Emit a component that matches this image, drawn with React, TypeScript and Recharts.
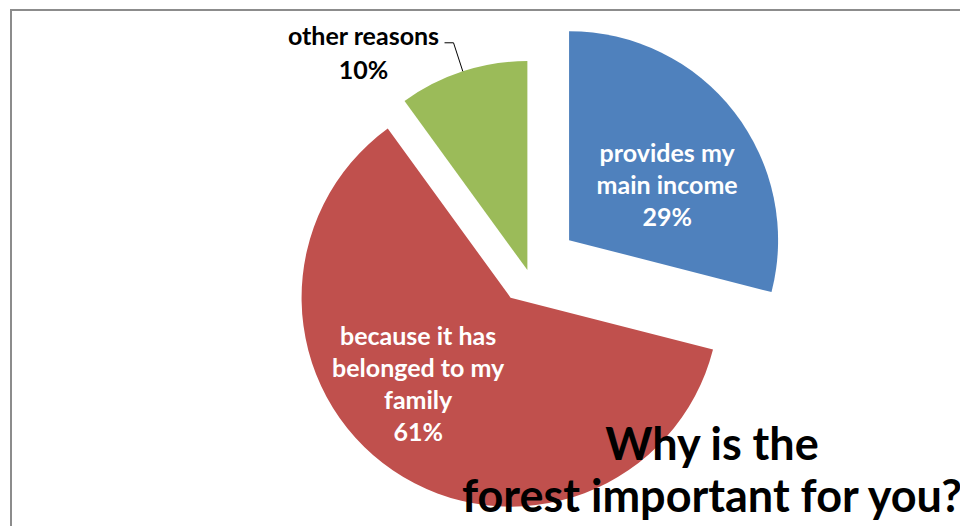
import { PieChart, Pie, Cell } from "recharts";

// slice order follows the reference: blue, red, green (clockwise from 12 o'clock)
const reasons = ["provides my main income", "because it has belonged to my family", "other reasons"];
const reasonLines = [["provides my", "main income"], ["because it has", "belonged to my", "family"], ["other reasons"]];
const shares = [29, 61, 10];
const titleLines = ["Why is the", "forest important for you?"];

const COLORS = ["#4F81BD", "#C0504D", "#9BBB59"];
const EXPLODE = [52, 31, 2];
const CENTER = { x: 528, y: 272 };
const RADIUS = 209;
const FONT = "Lato, 'Open Sans', sans-serif";
// inside labels: distance from slice tip and angle tweak vs. the mid angle
const LABEL_POS = [
  { dist: 113, turn: -8 },
  { dist: 126, turn: -13 },
  { dist: 0, turn: 0 },
];

const data = reasons.map((name, i) => ({ name, value: shares[i] }));
const total = shares.reduce((a, b) => a + b, 0);
const RAD = Math.PI / 180;

function midAngleOf(i: number) {
  const before = shares.slice(0, i).reduce((a, b) => a + b, 0);
  return 90 - (360 * (before + shares[i] / 2)) / total;
}

function polar(cx: number, cy: number, r: number, deg: number) {
  return { x: cx + r * Math.cos(deg * RAD), y: cy - r * Math.sin(deg * RAD) };
}

function renderLabel(p: any, layer: number) {
  if (p.index !== layer) return null;
  const lines = [...reasonLines[layer], `${p.value}%`];
  const common = { fontFamily: FONT, fontWeight: 700, fontSize: 25, textAnchor: "middle" as const, dominantBaseline: "central" as const };

  if (layer === 2) {
    // outside label with a leader line, like the small green slice
    const a = polar(p.cx, p.cy, p.outerRadius, p.midAngle);
    const b = polar(p.cx, p.cy, p.outerRadius + 30, p.midAngle);
    const c = { x: b.x - 9, y: b.y };
    return (
      <g>
        <polyline points={`${a.x},${a.y} ${b.x},${b.y} ${c.x},${c.y}`} fill="none" stroke="#000" strokeWidth={1} />
        {lines.map((t, k) => (
          <text key={k} x={c.x - 81} y={c.y - 8 + k * 34} fill="#000" {...common}>{t}</text>
        ))}
      </g>
    );
  }

  const pos = polar(p.cx, p.cy, LABEL_POS[layer].dist, p.midAngle + LABEL_POS[layer].turn);
  const step = 32;
  const top = pos.y - ((lines.length - 1) * step) / 2;
  return (
    <g>
      {lines.map((t, k) => (
        <text key={k} x={pos.x} y={top + k * step} fill="#fff" {...common}>{t}</text>
      ))}
    </g>
  );
}

export default function App() {
  return (
    <div style={{ position: "absolute", left: 0, top: 0, width: 960, height: 526, overflow: "hidden", background: "#fff" }}>
      <PieChart width={960} height={526} margin={{ top: 0, right: 0, bottom: 0, left: 0 }}>
        {COLORS.map((_, layer) => {
          const c = polar(CENTER.x, CENTER.y, EXPLODE[layer], midAngleOf(layer));
          return (
            <Pie
              key={layer}
              data={data}
              dataKey="value"
              nameKey="name"
              cx={c.x}
              cy={c.y}
              outerRadius={RADIUS}
              startAngle={90}
              endAngle={-270}
              stroke="none"
              labelLine={false}
              label={(p: any) => renderLabel(p, layer)}
              isAnimationActive={false}
            >
              {data.map((d, i) => (
                <Cell key={d.name} fill={i === layer ? COLORS[i] : "transparent"} />
              ))}
            </Pie>
          );
        })}
      </PieChart>
      <svg width={960} height={526} style={{ position: "absolute", left: 0, top: 0, pointerEvents: "none" }}>
        {titleLines.map((t, k) => (
          <text
            key={k}
            x={712}
            y={443 + k * 52}
            textAnchor="middle"
            dominantBaseline="central"
            fontFamily={FONT}
            fontWeight={700}
            fontSize={45}
            fill="#000"
          >
            {t}
          </text>
        ))}
      </svg>
      <div
        style={{
          position: "absolute",
          left: 10,
          top: 9,
          width: 1000,
          height: 600,
          border: "2px solid #8c8c8c",
          pointerEvents: "none",
        }}
      />
    </div>
  );
}
